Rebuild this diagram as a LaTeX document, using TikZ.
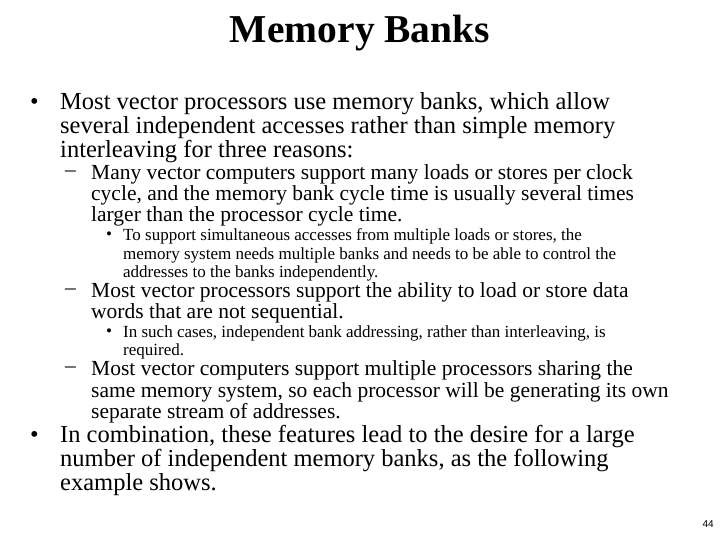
\documentclass[tikz,border=0pt]{standalone}
\usepackage{fontspec}
\setmainfont{Liberation Serif}
\setsansfont{Liberation Sans}
\usetikzlibrary{positioning}

\begin{document}
\begin{tikzpicture}[x=1pt,y=-1pt,
    lone/.style={anchor=west, inner sep=0pt, font=\fontsize{24.5}{26}\selectfont},
    ltwo/.style={anchor=west, inner sep=0pt, font=\fontsize{21.5}{23}\selectfont},
    lthree/.style={anchor=west, inner sep=0pt, font=\fontsize{17}{19}\selectfont}
]
\useasboundingbox (0,0) rectangle (720,540);

\node[font=\bfseries\fontsize{39.5}{42}\selectfont] (title) at (360,33) {Memory Banks};

% first point
\node[lone] (b1) at (30,104) {•};
\node[lone] (p1a) at (60,104) {Most vector processors use memory banks, which allow};
\node[lone] (p1b) at (60,128) {several independent accesses rather than simple memory};
\node[lone] (p1c) at (60,152) {interleaving for three reasons:};

\node[ltwo] (d1) at (65,174) {–};
\node[ltwo] (r1a) at (91,174) {Many vector computers support many loads or stores per clock};
\node[ltwo] (r1b) at (91,195) {cycle, and the memory bank cycle time is usually several times};
\node[ltwo] (r1c) at (91,216) {larger than the processor cycle time.};

\node[lthree] (s1) at (106,236) {•};
\node[lthree] (s1a) at (123,236) {To support simultaneous accesses from multiple loads or stores, the};
\node[lthree] (s1b) at (123,255) {memory system needs multiple banks and needs to be able to control the};
\node[lthree] (s1c) at (123,273) {addresses to the banks independently.};

\node[ltwo] (d2) at (65,292) {–};
\node[ltwo] (r2a) at (91,292) {Most vector processors support the ability to load or store data};
\node[ltwo] (r2b) at (91,313) {words that are not sequential.};

\node[lthree] (s2) at (106,333) {•};
\node[lthree] (s2a) at (123,333) {In such cases, independent bank addressing, rather than interleaving, is};
\node[lthree] (s2b) at (123,351) {required.};

\node[ltwo] (d3) at (65,370) {–};
\node[ltwo] (r3a) at (91,370) {Most vector computers support multiple processors sharing the};
\node[ltwo] (r3b) at (91,392) {same memory system, so each processor will be generating its own};
\node[ltwo] (r3c) at (91,413) {separate stream of addresses.};

% second point
\node[lone] (b2) at (30,437) {•};
\node[lone] (p2a) at (60,437) {In combination, these features lead to the desire for a large};
\node[lone] (p2b) at (60,461) {number of independent memory banks, as the following};
\node[lone] (p2c) at (60,485) {example shows.};

\node[anchor=east, inner sep=0pt, font=\sffamily\fontsize{10}{12}\selectfont] (page) at (714,524) {44};
\end{tikzpicture}
\end{document}
